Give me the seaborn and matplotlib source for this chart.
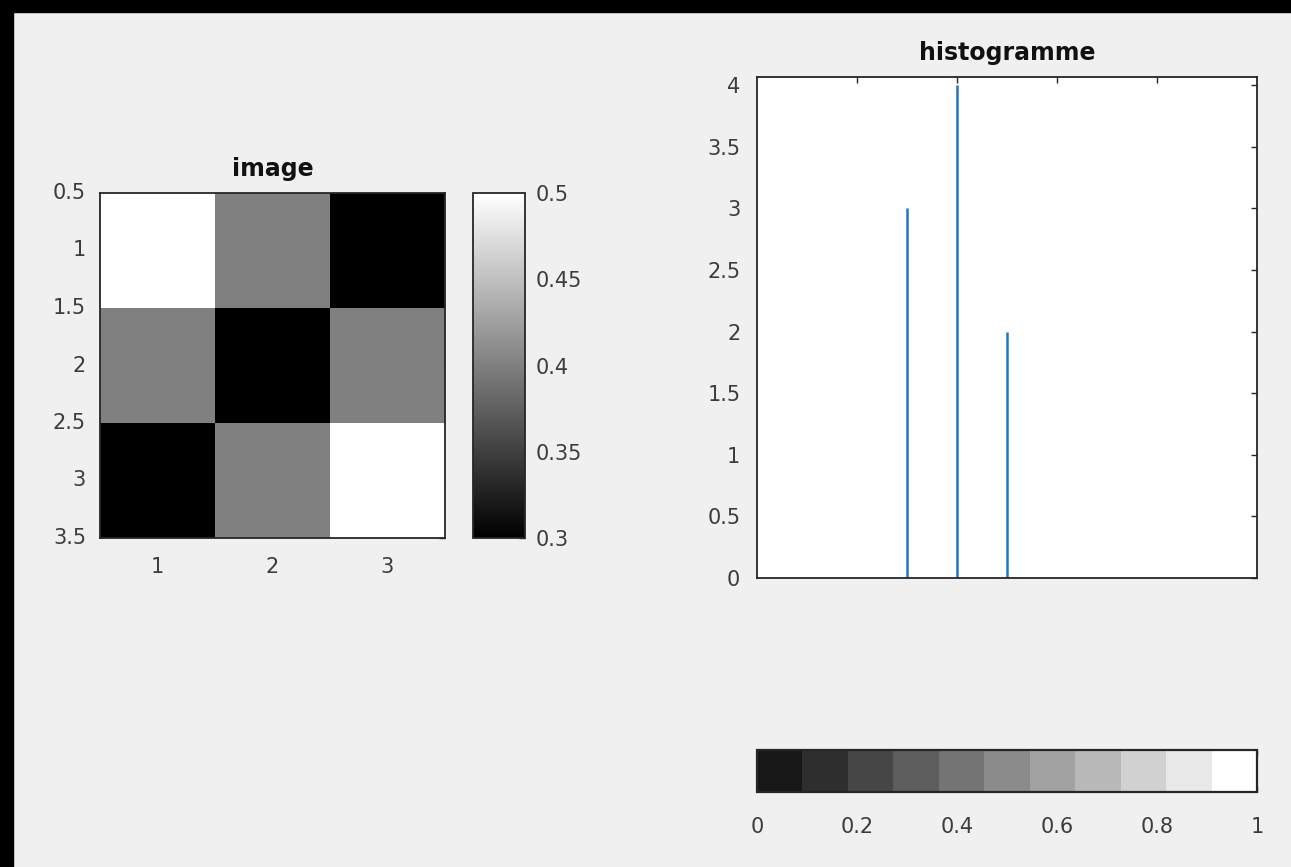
import numpy as np
import matplotlib
matplotlib.use("Agg")
import matplotlib.pyplot as plt
import matplotlib.patches as mpatches
from matplotlib.colors import ListedColormap, Normalize
from matplotlib.cm import ScalarMappable
import seaborn as sns

# 3x3 grey-level image
image_values = [
    [0.5, 0.4, 0.3],
    [0.4, 0.3, 0.4],
    [0.3, 0.4, 0.5],
]
col_labels = ["1", "2", "3"]
row_tick_labels = ["0.5", "1", "1.5", "2", "2.5", "3", "3.5"]
image_cbar_ticks = [0.3, 0.35, 0.4, 0.45, 0.5]

# histogram of the image grey levels (counts per level)
hist_levels = [0.3, 0.4, 0.5]
hist_counts = [3, 4, 2]
hist_yticks = [0, 0.5, 1, 1.5, 2, 2.5, 3, 3.5, 4]
hist_xticks = [0.2, 0.4, 0.6, 0.8]

# 11-step grey scale bar
scale_levels = [(i + 1) / 11 for i in range(11)]
scale_ticks = [0, 0.2, 0.4, 0.6, 0.8, 1]

sns.set_style("white")
plt.rcParams["font.family"] = ["DejaVu Sans"]

INK = "#262626"
LABEL = "#3c3c3c"
BG = "#f0f0f0"
W, H = 1291, 867

fig = plt.figure(figsize=(W / 100, H / 100), dpi=100, facecolor=BG)


def frac(x0, y0, x1, y1):
    return [x0 / W, 1 - y1 / H, (x1 - x0) / W, (y1 - y0) / H]


# window frame strips along top and left
fig.patches.append(mpatches.Rectangle((0, 1 - 12 / H), 1, 12 / H, transform=fig.transFigure,
                                      color="black", zorder=0))
fig.patches.append(mpatches.Rectangle((0, 0), 13 / W, 1, transform=fig.transFigure,
                                      color="black", zorder=0))

ax_img = fig.add_axes(frac(100, 193, 445, 538))
ax_cb = fig.add_axes(frac(473, 193, 525, 538))
ax_hist = fig.add_axes(frac(757, 77, 1257, 578))
ax_bar = fig.add_axes(frac(757, 750, 1257, 792))

TICK_FS = 15
TITLE_FS = 17


def style_box(ax):
    for s in ax.spines.values():
        s.set_visible(True)
        s.set_color(INK)
        s.set_linewidth(1.3)


# ---- image panel ----
sns.heatmap(np.array(image_values), ax=ax_img, cmap="gray", vmin=0.3, vmax=0.5,
            cbar_ax=ax_cb, cbar_kws={"ticks": image_cbar_ticks})
style_box(ax_img)
n = len(col_labels)
ax_img.set_xticks(np.arange(n) + 0.5)
ax_img.set_xticklabels(col_labels, rotation=0)
ax_img.set_yticks(np.arange(len(row_tick_labels)) * 0.5)
ax_img.set_yticklabels(row_tick_labels, rotation=0)
ax_img.tick_params(axis="both", direction="in", length=4, width=1, color=INK,
                   labelsize=TICK_FS, labelcolor=LABEL, top=True, right=True, pad=10)
ax_img.tick_params(axis="x", pad=14)
ax_img.set_title("image", fontsize=TITLE_FS, fontweight="bold", color="#111111", pad=12)

cbar = ax_img.collections[0].colorbar
cbar.outline.set_visible(True)
cbar.outline.set_edgecolor(INK)
cbar.outline.set_linewidth(1.3)
cbar.set_ticklabels([f"{t:g}" for t in image_cbar_ticks])
ax_cb.tick_params(direction="in", length=4, width=1, color=INK, labelsize=TICK_FS,
                  labelcolor=LABEL, pad=8)

# ---- histogram panel ----
ax_hist.set_facecolor("white")
ax_hist.vlines(hist_levels, 0, hist_counts, color="#1f77c4", linewidth=1.8)
ax_hist.set_xlim(0, 1)
ax_hist.set_ylim(0, 4.065)
ax_hist.set_yticks(hist_yticks)
ax_hist.set_yticklabels([f"{v:g}" for v in hist_yticks])
ax_hist.set_xticks(hist_xticks)
ax_hist.set_xticklabels([])
style_box(ax_hist)
ax_hist.tick_params(axis="both", direction="in", length=4, width=1, color=INK,
                    labelsize=TICK_FS, labelcolor=LABEL, top=True, right=True, pad=12)
ax_hist.set_title("histogramme", fontsize=TITLE_FS, fontweight="bold", color="#111111", pad=12)

# ---- grey scale bar ----
sm = ScalarMappable(norm=Normalize(0, 1), cmap=ListedColormap([(v, v, v) for v in scale_levels]))
bar = fig.colorbar(sm, cax=ax_bar, orientation="horizontal", ticks=scale_ticks)
bar.outline.set_edgecolor(INK)
bar.outline.set_linewidth(1.6)
bar.set_ticklabels([f"{t:g}" for t in scale_ticks])
ax_bar.tick_params(axis="x", direction="in", length=4, width=1, color=INK, labelsize=TICK_FS,
                   labelcolor=LABEL, top=True, pad=18)

fig.savefig("out.png", dpi=100, facecolor=BG)
